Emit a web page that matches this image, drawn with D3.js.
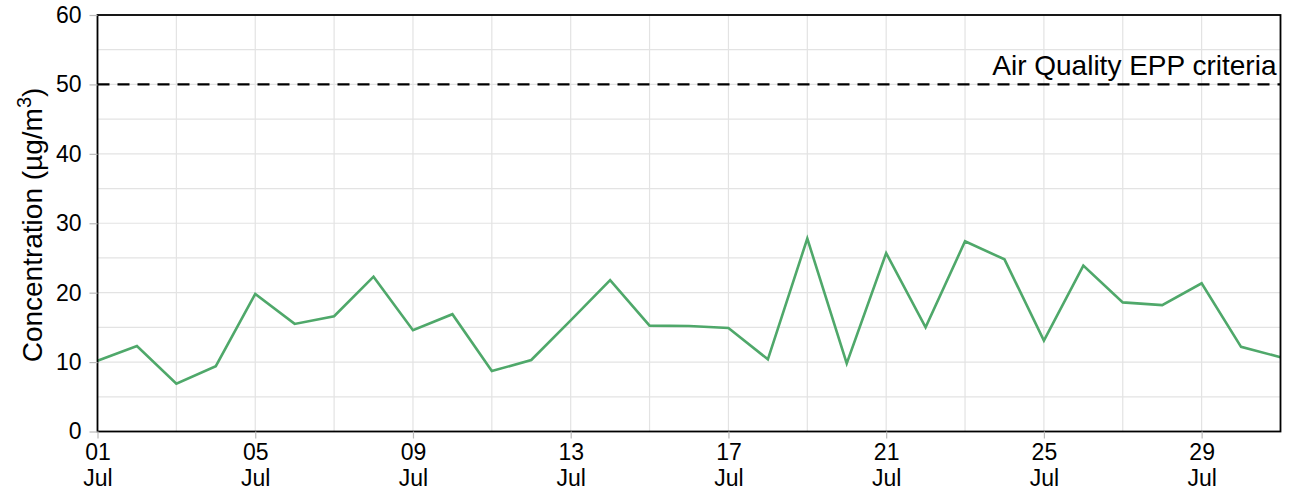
<!DOCTYPE html>
<html><head><meta charset="utf-8">
<script src="https://cdn.jsdelivr.net/npm/d3@7"></script>
<style>body{margin:0;background:#fff}svg{display:block;font-family:"Liberation Sans",Arial,sans-serif}</style>
</head><body><svg id="c" width="1294" height="494"></svg>
<script>
const dates = ["2023-07-01","2023-07-02","2023-07-03","2023-07-04","2023-07-05","2023-07-06","2023-07-07","2023-07-08","2023-07-09","2023-07-10","2023-07-11","2023-07-12","2023-07-13","2023-07-14","2023-07-15","2023-07-16","2023-07-17","2023-07-18","2023-07-19","2023-07-20","2023-07-21","2023-07-22","2023-07-23","2023-07-24","2023-07-25","2023-07-26","2023-07-27","2023-07-28","2023-07-29","2023-07-30","2023-07-31"];
const concentration = [10.2,12.3,6.9,9.4,19.8,15.5,16.6,22.3,14.6,16.9,8.7,10.3,16.0,21.8,15.25,15.2,14.9,10.4,27.8,9.8,25.7,15.0,27.4,24.8,13.1,23.9,18.6,18.2,21.35,12.2,10.7];
const yTicks = [0,10,20,30,40,50,60];
const criteria = 50;
const criteriaLabel = "Air Quality EPP criteria";

const parse = d3.timeParse("%Y-%m-%d");
const data = dates.map((d,i)=>({date:parse(d), v:concentration[i]}));
const svg = d3.select("#c");
const L=97.5, R=1280.5, T=15, B=431.5;
const x = d3.scaleTime().domain(d3.extent(data,d=>d.date)).range([L,R]);
const y = d3.scaleLinear().domain([0,60]).range([B,T]);

const grid = svg.append("g");
d3.range(0,61,5).forEach(v=>{
  grid.append("line").attr("x1",L).attr("x2",R).attr("y1",y(v)).attr("y2",y(v))
   .attr("stroke","#e3e3e3").attr("stroke-width",1.2);
});
const dayTicks = d3.timeDay.range(data[0].date, d3.timeDay.offset(data[data.length-1].date,1), 2);
dayTicks.forEach(d=>{
  grid.append("line").attr("x1",x(d)).attr("x2",x(d)).attr("y1",T).attr("y2",B)
   .attr("stroke","#e3e3e3").attr("stroke-width",1.2);
});

svg.append("line").attr("x1",L).attr("x2",R).attr("y1",y(criteria)).attr("y2",y(criteria))
  .attr("stroke","#000").attr("stroke-width",2.2).attr("stroke-dasharray","12,8");
svg.append("text").attr("x",R-4).attr("y",y(criteria)-9).attr("text-anchor","end")
  .attr("font-size",28).attr("fill","#000").text(criteriaLabel);

svg.append("path").datum(data)
  .attr("d", d3.line().x(d=>x(d.date)).y(d=>y(d.v)))
  .attr("fill","none").attr("stroke","#4fa86a").attr("stroke-width",2.6).attr("stroke-linejoin","miter");

svg.append("rect").attr("x",L).attr("y",T).attr("width",R-L).attr("height",B-T)
  .attr("fill","none").attr("stroke","#000").attr("stroke-width",1.8);

const ya = svg.append("g").attr("transform",`translate(${L},0)`)
  .call(d3.axisLeft(y).tickValues(yTicks).tickSize(8).tickPadding(8));
ya.select(".domain").remove();
ya.selectAll("line").attr("stroke","#bbb").attr("stroke-width",1.2);
ya.selectAll("text").attr("font-size",23).attr("fill","#000").attr("font-family","Liberation Sans, Arial, sans-serif");

const xTicks = d3.timeDay.range(data[0].date, d3.timeDay.offset(data[data.length-1].date,1), 4);
const xa = svg.append("g").attr("transform",`translate(0,${B})`)
  .call(d3.axisBottom(x).tickValues(xTicks).tickSize(7).tickFormat(""));
xa.select(".domain").remove();
xa.selectAll("line").attr("stroke","#bbb").attr("stroke-width",1.2);
const fmtD = d3.timeFormat("%d"), fmtM = d3.timeFormat("%b");
xa.selectAll(".tick").each(function(d){
  const g = d3.select(this);
  g.append("text").attr("y",28.5).attr("text-anchor","middle").attr("font-size",23).attr("fill","#000").text(fmtD(d));
  g.append("text").attr("y",54.5).attr("text-anchor","middle").attr("font-size",23).attr("fill","#000").text(fmtM(d));
});

const yt = svg.append("text").attr("transform",`translate(42,225) rotate(-90)`)
  .attr("text-anchor","middle").attr("font-size",28).attr("fill","#000");
yt.append("tspan").text("Concentration (µg/m");
yt.append("tspan").attr("dy",-11).attr("font-size",20).text("3");
yt.append("tspan").attr("dy",11).text(")");
</script></body></html>
